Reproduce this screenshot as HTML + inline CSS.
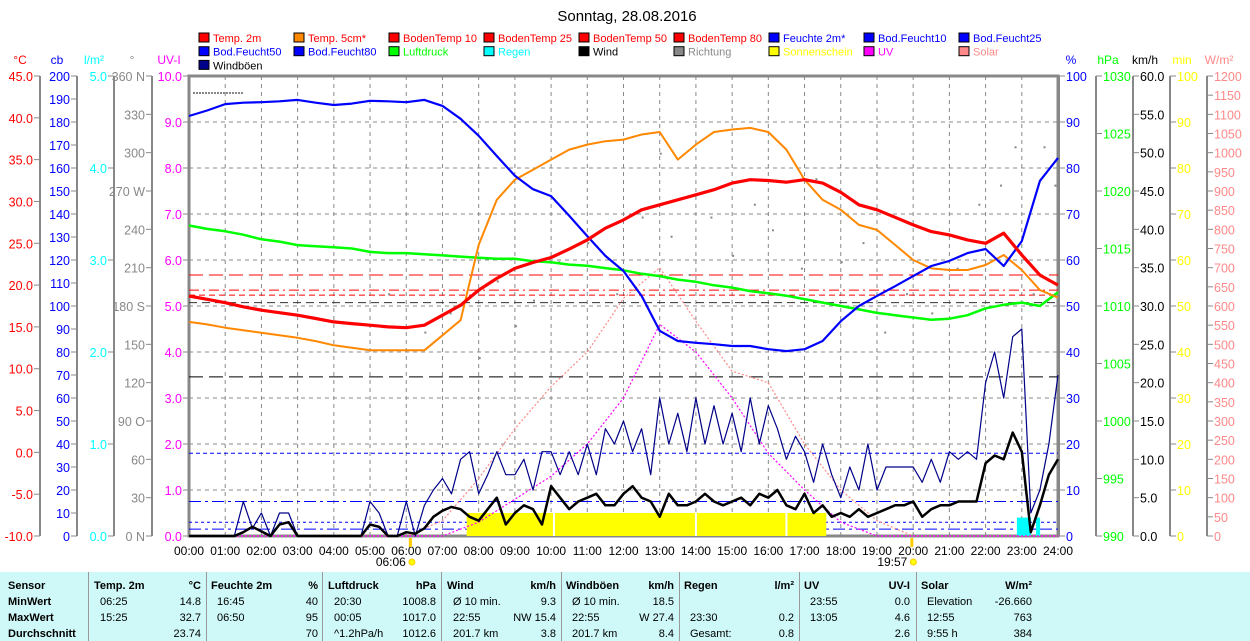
<!DOCTYPE html>
<html><head><meta charset="utf-8">
<style>
body{margin:0;background:#fff;width:1250px;height:641px;overflow:hidden;font-family:"Liberation Sans",sans-serif}
svg{position:absolute;left:0;top:0}
#tbl{position:absolute;left:0;top:572px;width:1250px;height:69px;background:#cff8f8;font-family:"Liberation Sans",sans-serif;font-size:11px}
#tbl div{position:absolute;white-space:nowrap}
.sep{width:1px;height:69px;top:0;background:#999}
.b{font-weight:bold}
</style></head><body>
<svg id="c" width="1250" height="572"></svg>
<div id="tbl"></div>
<script>
// ---- data (values per 30 min 00:00..24:00) ----
const temp2m=[18.7,18.3,17.9,17.4,17.0,16.7,16.4,16.0,15.6,15.4,15.2,15.0,14.9,15.2,16.4,17.6,19.4,20.8,22.0,22.7,23.3,24.3,25.4,26.8,27.8,29.0,29.6,30.2,30.8,31.4,32.2,32.6,32.5,32.3,32.6,32.2,31.1,29.6,29.0,28.1,27.2,26.4,26.0,25.4,25.0,26.2,23.6,21.2,20.0];
const temp5cm=[15.6,15.3,14.9,14.6,14.3,14.0,13.7,13.3,12.8,12.5,12.2,12.2,12.2,12.2,14.0,15.8,24.8,30.2,32.6,33.8,35.0,36.2,36.8,37.2,37.4,38.0,38.3,35.0,36.8,38.3,38.6,38.8,38.3,36.2,32.6,30.2,29.0,27.2,26.6,24.8,23.0,22.0,21.8,21.8,22.4,23.6,21.8,19.4,18.5];
const feuchte=[91.3,92.5,93.9,94.2,94.3,94.5,94.8,94.2,93.7,94.0,94.6,94.5,94.3,94.8,93.5,90.7,87.0,82.6,78.3,75.4,73.9,69.6,65.2,60.9,57.6,52.2,44.6,42.4,42.0,41.7,41.3,41.3,40.6,40.2,40.6,42.4,46.7,50.0,52.2,54.3,56.5,58.7,59.8,61.5,62.4,58.7,64.1,77.2,82.2];
const luftdruck=[1017.0,1016.7,1016.5,1016.2,1015.8,1015.6,1015.3,1015.2,1015.1,1015.0,1014.7,1014.6,1014.6,1014.5,1014.4,1014.3,1014.2,1014.1,1014.1,1013.9,1013.8,1013.6,1013.5,1013.3,1013.1,1012.8,1012.6,1012.3,1012.1,1011.8,1011.6,1011.3,1011.1,1010.9,1010.6,1010.3,1010.0,1009.7,1009.4,1009.2,1009.0,1008.8,1008.9,1009.2,1009.8,1010.1,1010.3,1010.0,1011.2];
// wind / gusts per 15 min
const wind=[0,0,0,0,0,0,0.5,1.2,0.6,0,1.5,1.8,0,0,0,0,0,0,0,0,1.5,1.2,0,0,0.5,0.3,1.0,2.5,3.3,3.8,3.5,2.5,2.0,3.5,5.0,1.5,3.0,4.0,3.5,1.5,6.5,5.0,3.5,4.5,5.0,5.5,4.0,4.0,5.5,6.5,5.0,4.5,2.5,5.5,4.0,4.0,4.5,5.5,4.5,4.0,4.5,5.0,4.0,5.5,5.0,6.0,4.0,3.5,5.5,3.0,4.0,2.5,3.0,2.5,3.5,2.5,3.0,3.5,4.0,4.0,4.5,2.5,3.5,4.0,4.0,4.5,4.5,4.5,9.5,10.5,10.0,13.5,11.0,0.5,4.0,8.0,10.0];
const gusts=[0,0,0,0,0,0,4.5,1,3,0,3,3,0,0,0,0,0,0,0,0,4.5,3,0,0,4.5,0,4,6,7.5,5.5,10,11,5.5,8,11,8,8,10,6,11,11,8,11,8,12,8,14,12,15,11,14,8,18,12,16,11,18,12,17,12,16,11,18,12,17,14,10,13,11,7,12,8,5,9,6,12,6,9,9,9,9,7,10,7,11,10,11,10,20,24,18,26,27,3,6,12,21];
// UV index and solar (hourly 00..24)
const uv=[0,0,0,0,0,0,0,0,0.3,0.8,1.3,2.0,3.0,4.6,4.0,3.0,1.8,1.0,0.3,0,0,0,0,0,0];
const solar=[0,0,0,0,0,0,0,40,150,280,390,480,620,700,560,430,400,240,120,40,0,0,0,0,0];
const sunStart=7.67, sunEnd=17.6, sunGaps=[10.08,14.0,16.5];
const soilTemps=[21.2,19.4,18.8,17.9];
const rainTimes=[22.92,23.0,23.1,23.2,23.45];
const dirTimes=[5.5,6.5,7.2,8.0,8.5,9.0,9.5,10.2,11.0,11.8,12.5,13.0,13.3,13.8,14.4,15.0,15.6,16.1,16.9,17.3,18.0,18.6,19.2,19.8,20.5,21.2,21.8,22.4,22.8,23.3,23.6,23.9];
const dirDeg=[190,160,175,140,200,165,185,215,230,190,250,300,235,205,250,220,260,240,210,280,215,230,160,190,175,210,260,275,305,190,305,275];
const xTicks=["00:00","01:00","02:00","03:00","04:00","05:00","06:00","07:00","08:00","09:00","10:00","11:00","12:00","13:00","14:00","15:00","16:00","17:00","18:00","19:00","20:00","21:00","22:00","23:00","24:00"];

const X0=189,X1=1058,Y0=536,Y1=76,svg=document.getElementById('c'),NS='http://www.w3.org/2000/svg';
const xs=h=>X0+(X1-X0)*h/24;
const lin=(a,b)=>v=>Y0-(Y0-Y1)*(v-a)/(b-a);
const yT=lin(-10,45),yP=lin(0,100),yH=lin(990,1030),yW=lin(0,60),yU=lin(0,10),yS=lin(0,1200),yR=lin(0,5),yD=lin(0,360),yM=lin(0,100);
function el(t,a,txt){const e=document.createElementNS(NS,t);for(const k in a)e.setAttribute(k,a[k]);if(txt!==undefined)e.textContent=txt;svg.appendChild(e);return e;}
function txt(x,y,s,fill,anchor,size){const e=el('text',{x:x,y:y,fill:fill,'font-size':size||12,'text-anchor':anchor||'start','font-family':'Liberation Sans, sans-serif'},s);return e;}

let t=txt(627,21,"Sonntag, 28.08.2016","#000","middle",15);


const leg=[["Temp. 2m","#f00","#f00"],["Temp. 5cm*","#f80","#f00"],["BodenTemp 10","#f00","#f00"],["BodenTemp 25","#f00","#f00"],["BodenTemp 50","#f00","#f00"],["BodenTemp 80","#f00","#f00"],["Feuchte 2m*","#00f","#00f"],["Bod.Feucht10","#00f","#00f"],["Bod.Feucht25","#00f","#00f"],
["Bod.Feucht50","#00f","#00f"],["Bod.Feucht80","#00f","#00f"],["Luftdruck","#0f0","#0f0"],["Regen","#0ff","#0ff"],["Wind","#000","#000"],["Richtung","#888","#888"],["Sonnenschein","#ff0","#ff0"],["UV","#f0f","#f0f"],["Solar","#f88","#f88"],["Windböen","#008","#000"]];
leg.forEach((l,i)=>{const r=Math.floor(i/9),c=i%9,x=199+c*95,y=33+r*13.7;
 const g=el('rect',{x:x,y:y,width:10,height:9,fill:l[1],stroke:'#000','stroke-width':1});
 
 const tt=txt(x+14,y+9,l[0],l[2],'start',11);
 });

for(let h=0;h<=24;h++){const l=el('line',{x1:xs(h),x2:xs(h),y1:Y1,y2:Y0,stroke:'#888','stroke-dasharray':'4,4'});}
for(let v=1;v<10;v++){const l=el('line',{x1:X0,x2:X1,y1:yU(v),y2:yU(v),stroke:'#888','stroke-dasharray':'4,4'});}
const frame=el('rect',{x:X0,y:Y1,width:X1-X0,height:Y0-Y1,fill:'none',stroke:'#888','stroke-width':3});

xTicks.forEach((s,i)=>{const e=txt(xs(i),555,s,'#000','middle',12);});

function axis(ax,vals,fn,fmt,col,side,title,tcol){
 const l=el('line',{x1:ax,x2:ax,y1:Y1,y2:Y0,stroke:'#888','stroke-width':2});
 vals.forEach(v=>{const y=fn(v);el('line',{x1:ax,x2:ax+(side<0?-6:6),y1:y,y2:y,stroke:'#888'});
  const e=txt(side<0?ax-7:ax+7,y+5,fmt(v),col,side<0?'end':'start',12.5);
  });
 const h=txt(ax+(side<0?-20:12),64,title,tcol||col,'middle',12);
}
const rng=(a,b,s)=>{const r=[];for(let v=a;v<=b+1e-9;v+=s)r.push(+v.toFixed(3));return r;};
axis(40,rng(-10,45,5),yT,v=>v.toFixed(1),'#f00',-1,'°C');
axis(77,rng(0,200,10),lin(0,200),v=>String(v),'#00f',-1,'cb');
axis(114,rng(0,5,1),yR,v=>v.toFixed(1),'#0ff',-1,'l/m²');
const dl={360:'360 N',270:'270 W',180:'180 S',90:'90  O',0:'0  N'};
axis(152,rng(0,360,30),yD,v=>dl[v]||String(v),'#888',-1,'°');
axis(189,rng(0,10,1),yU,v=>v.toFixed(1),'#f0f',-1,'UV-I');
axis(1059,rng(0,100,10),yP,v=>String(v),'#00f',1,'%');
axis(1096,rng(990,1030,5),yH,v=>String(v),'#0f0',1,'hPa');
axis(1133,rng(0,60,5),yW,v=>v.toFixed(1),'#000',1,'km/h');
axis(1170,rng(0,100,10),yM,v=>String(v),'#ff0',1,'min');
axis(1207,rng(0,1200,50),yS,v=>String(v),'#f88',1,'W/m²');

const sdash=['14,6','10,4,2,4','6,4','8,5'],scol=['#f00','#f00','#f00','#333'];
soilTemps.forEach((v,i)=>{const l=el('line',{x1:X0,x2:X1,y1:yT(v),y2:yT(v),stroke:scol[i],'stroke-dasharray':sdash[i]});});
[[34.6,'#000','14,6'],[18,'#00f','4,3'],[7.5,'#00f','12,4,3,4'],[1.5,'#00f','12,4,3,4'],[3,'#00f','3,3']].forEach(d=>{const l=el('line',{x1:X0,x2:X1,y1:yP(d[0]),y2:yP(d[0]),stroke:d[1],'stroke-dasharray':d[2]});});

const sun=el('rect',{x:xs(sunStart),y:yU(0.5),width:xs(sunEnd)-xs(sunStart),height:Y0-yU(0.5),fill:'#ff0'});

sunGaps.forEach(g=>{el('line',{x1:xs(g),x2:xs(g),y1:yU(0.5),y2:Y0,stroke:'#fff','stroke-width':2});});

rainTimes.forEach(r=>{const b=el('rect',{x:xs(r)-2,y:yR(0.2),width:4,height:Y0-yR(0.2),fill:'#0ff'});});

function series(arr,step,fn,col,w,name,dash){
 const pts=arr.map((v,i)=>xs(i*step).toFixed(1)+','+fn(v).toFixed(1)).join(' ');
 const a={points:pts,fill:'none',stroke:col,'stroke-width':w,'stroke-linejoin':'round'};if(dash)a['stroke-dasharray']=dash;
 const p=el('polyline',a);}
series(solar,1,yS,'#f88',1.2,'solar-line','2,2');
series(uv,1,yU,'#f0f',1.2,'uv-line','2,2');
dirTimes.forEach((h,i)=>{const d=el('rect',{x:xs(h),y:yD(dirDeg[i]),width:2,height:2,fill:'#888'});});
series(gusts,0.25,yW,'#008',1.2,'gust-line');
series(wind,0.25,yW,'#000',2.5,'wind-line');
series(luftdruck,0.5,yH,'#0f0',2.5,'pressure-line');
series(temp5cm,0.5,yT,'#f80',2,'temp-5cm-line');
series(feuchte,0.5,yP,'#00f',2.2,'humidity-line');
series(temp2m,0.5,yT,'#f00',3.2,'temp-2m-line');
el('line',{x1:X0+4,x2:xs(1.5),y1:93,y2:93,stroke:'#888','stroke-width':2,'stroke-dasharray':'2,1'});

[[6.1,'06:06'],[19.95,'19:57']].forEach(s=>{el('rect',{x:xs(s[0])-1,y:Y0+2,width:3,height:9,fill:'#fc0'});
 const e=txt(xs(s[0])-4,566,s[1],'#000','end',12);
 el('circle',{cx:xs(s[0])+2,cy:562,r:3,fill:'#ff0',stroke:'#fc0'});});

const T=document.getElementById('tbl');
function cell(x,y,s,cls,right){const d=document.createElement('div');d.textContent=s;d.style.top=y+'px';if(right){d.style.right=(1250-x)+'px';}else d.style.left=x+'px';if(cls)d.className=cls;
 T.appendChild(d);}
[88,206,322,441,561,679,799,916].forEach(x=>{const d=document.createElement('div');d.className='sep';d.style.left=x+'px';T.appendChild(d);});
const rows=[8,24,40,56];
['Sensor','MinWert','MaxWert','Durchschnitt'].forEach((s,i)=>cell(8,rows[i],s,'b'));
const cols=[[94,201,'Temp. 2m','°C',[['06:25','14.8'],['15:25','32.7'],['','23.74']]],
[211,318,'Feuchte 2m','%',[['16:45','40'],['06:50','95'],['','70']]],
[328,436,'Luftdruck','hPa',[['20:30','1008.8'],['00:05','1017.0'],['^1.2hPa/h','1012.6']]],
[447,556,'Wind','km/h',[['Ø 10 min.','9.3'],['22:55','NW 15.4'],['201.7 km','3.8']]],
[566,674,'Windböen','km/h',[['Ø 10 min.','18.5'],['22:55','W 27.4'],['201.7 km','8.4']]],
[684,794,'Regen','l/m²',[['',''],['23:30','0.2'],['Gesamt:','0.8']]],
[804,910,'UV','UV-I',[['23:55','0.0'],['13:05','4.6'],['','2.6']]],
[921,1032,'Solar','W/m²',[['Elevation','-26.660'],['12:55','763'],['9:55 h','384']]]];
cols.forEach(c=>{cell(c[0],rows[0],c[2],'b');cell(c[1],rows[0],c[3],'b',true);
 c[4].forEach((r,i)=>{cell(c[0]+6,rows[i+1],r[0]);cell(c[1],rows[i+1],r[1],'',true);});});
</script>
</body></html>
